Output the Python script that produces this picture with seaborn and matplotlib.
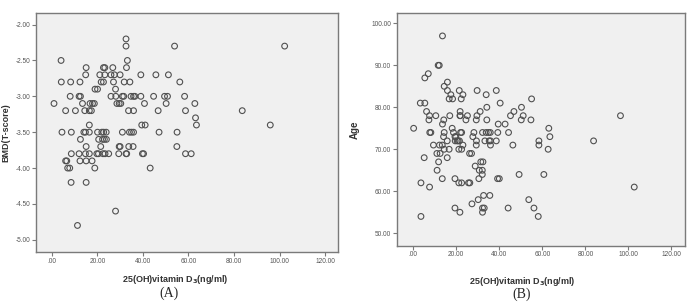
import numpy as np
import pandas as pd
import seaborn as sns
import matplotlib
matplotlib.use("Agg")
import matplotlib.pyplot as plt

# panel A: vitamin D vs BMD (T-score)
vitd_a = [32.6, 32.6, 53.9, 102.2, 4.1, 33.2,
          15.1, 22.7, 23.3, 26.8, 32.8,
          14.9, 21.1, 23.3, 26.0, 27.5, 30.0, 39.1, 45.7, 51.2,
          4.2, 8.3, 12.4, 21.7, 22.7, 27.1, 31.8, 34.3, 56.2,
          19.0, 20.1, 28.0,
          8.1, 12.0, 12.6, 26.0, 28.1, 31.0, 31.6, 34.8, 35.9, 36.5, 39.1, 44.7, 49.5, 50.8, 58.3,
          1.0, 13.5, 16.8, 17.9, 18.7, 28.6, 29.6, 30.3, 40.7, 50.2, 62.8,
          6.1, 10.4, 14.5, 16.5, 17.4, 33.7, 35.9, 46.7, 58.7, 83.6,
          63.1,
          16.5, 39.5, 41.0, 63.5, 95.9,
          4.5, 8.6, 14.1, 14.8, 16.5, 20.1, 22.0, 22.8, 23.9, 31.0, 34.1, 35.0, 35.9, 47.1, 55.0,
          12.6, 20.6, 22.3, 23.1, 24.0,
          15.1, 21.5, 29.6, 30.0, 33.8, 35.7, 54.9,
          8.6, 12.0, 14.8, 16.5, 19.8, 20.5, 22.5, 23.4, 25.0, 29.4, 32.6, 32.9, 39.8, 40.3, 58.7, 61.2,
          6.1, 6.6, 12.4, 15.1, 17.7,
          7.0, 7.9, 18.9, 43.2,
          8.5, 15.1,
          28.0,
          11.3]
bmd_a = [-2.2, -2.3, -2.3, -2.3, -2.5, -2.5,
         -2.6, -2.6, -2.6, -2.6, -2.6,
         -2.7, -2.7, -2.7, -2.7, -2.7, -2.7, -2.7, -2.7, -2.7,
         -2.8, -2.8, -2.8, -2.8, -2.8, -2.8, -2.8, -2.8, -2.8,
         -2.9, -2.9, -2.9,
         -3.0, -3.0, -3.0, -3.0, -3.0, -3.0, -3.0, -3.0, -3.0, -3.0, -3.0, -3.0, -3.0, -3.0, -3.0,
         -3.1, -3.1, -3.1, -3.1, -3.1, -3.1, -3.1, -3.1, -3.1, -3.1, -3.1,
         -3.2, -3.2, -3.2, -3.2, -3.2, -3.2, -3.2, -3.2, -3.2, -3.2,
         -3.3,
         -3.4, -3.4, -3.4, -3.4, -3.4,
         -3.5, -3.5, -3.5, -3.5, -3.5, -3.5, -3.5, -3.5, -3.5, -3.5, -3.5, -3.5, -3.5, -3.5, -3.5,
         -3.6, -3.6, -3.6, -3.6, -3.6,
         -3.7, -3.7, -3.7, -3.7, -3.7, -3.7, -3.7,
         -3.8, -3.8, -3.8, -3.8, -3.8, -3.8, -3.8, -3.8, -3.8, -3.8, -3.8, -3.8, -3.8, -3.8, -3.8, -3.8,
         -3.9, -3.9, -3.9, -3.9, -3.9,
         -4.0, -4.0, -4.0, -4.0,
         -4.2, -4.2,
         -4.6,
         -4.8]

# panel B: vitamin D vs age
vitd_b = [13.6, 11.6, 12.1, 7.0, 5.4, 15.9, 14.4,
          15.9, 21.4, 29.7, 38.6,
          33.9, 17.5, 23.1,
          16.7, 18.3, 22.3, 55.0,
          3.3, 5.4, 40.4,
          34.2, 50.3,
          6.2, 21.8, 31.1, 46.8,
          7.6, 10.5, 17.0, 21.7, 21.9, 25.2, 29.6, 45.2, 51.1, 96.3,
          7.3, 14.2, 24.5, 29.3, 34.2, 50.2, 54.7,
          13.6, 39.5, 42.7,
          0.2, 18.1, 63.0,
          7.7, 8.2, 14.4, 18.7, 22.0, 22.5, 28.2, 32.2, 33.9, 35.0, 35.8, 39.3, 44.3,
          14.1, 19.4, 19.8, 27.7, 63.5,
          15.8, 19.5, 20.4, 20.9, 21.5, 29.4, 33.3, 35.3, 35.9, 38.6, 58.4, 83.8,
          9.4, 12.2, 13.5, 23.1, 29.3, 35.9, 46.3, 58.4,
          14.4, 16.7, 21.2, 22.5, 62.7,
          11.0, 12.5, 26.2, 27.1,
          5.1, 15.8,
          11.8, 31.4, 32.4,
          28.8,
          11.1, 30.7, 32.1,
          32.1, 49.2, 60.7,
          13.5, 19.4, 30.5, 39.2, 40.0,
          3.6, 21.2, 22.5, 25.7, 26.3,
          7.6, 102.7,
          32.7, 35.6,
          30.2, 53.7,
          27.3,
          19.4, 32.2, 33.0, 44.1, 56.1,
          21.7, 32.2,
          3.6, 58.1]
age_b = [97, 90, 90, 88, 87, 86, 85,
         84, 84, 84, 84,
         83, 83, 83,
         82, 82, 82, 82,
         81, 81, 81,
         80, 80,
         79, 79, 79, 79,
         78, 78, 78, 78, 78, 78, 78, 78, 78, 78,
         77, 77, 77, 77, 77, 77, 77,
         76, 76, 76,
         75, 75, 75,
         74, 74, 74, 74, 74, 74, 74, 74, 74, 74, 74, 74, 74,
         73, 73, 73, 73, 73,
         72, 72, 72, 72, 72, 72, 72, 72, 72, 72, 72, 72,
         71, 71, 71, 71, 71, 71, 71, 71,
         70, 70, 70, 70, 70,
         69, 69, 69, 69,
         68, 68,
         67, 67, 67,
         66,
         65, 65, 65,
         64, 64, 64,
         63, 63, 63, 63, 63,
         62, 62, 62, 62, 62,
         61, 61,
         59, 59,
         58, 58,
         57,
         56, 56, 56, 56, 56,
         55, 55,
         54, 54]

x_ticks = [0, 20, 40, 60, 80, 100, 120]
bmd_ticks = [-2.0, -2.5, -3.0, -3.5, -4.0, -4.5, -5.0]
age_ticks = [50, 60, 70, 80, 90, 100]

df_a = pd.DataFrame({"vitd": vitd_a, "bmd": bmd_a})
df_b = pd.DataFrame({"vitd": vitd_b, "age": age_b})

sns.set_style("white")
plt.rcParams["font.family"] = ["Liberation Sans", "DejaVu Sans"]


def fmt(v):
    # SPSS style: ".00", "-2.50"
    s = "%.2f" % v
    if s.startswith("0."):
        s = s[1:]
    return s


def style_axes(ax, yticks):
    ax.set_facecolor("#f0f0f0")
    for sp in ax.spines.values():
        sp.set_color("#7a7a7a")
        sp.set_linewidth(1.0)
    ax.set_xticks(x_ticks)
    ax.set_xticklabels([fmt(v) for v in x_ticks])
    ax.set_yticks(yticks)
    ax.set_yticklabels([fmt(v) for v in yticks])
    ax.tick_params(axis="both", labelsize=4.7, colors="#7a7a7a", labelcolor="#555555",
                   length=3, width=0.8, direction="out", pad=1,
                   bottom=True, left=True, top=False, right=False)


fig = plt.figure(figsize=(6.91, 3.02), dpi=100)
ax1 = fig.add_axes([0.0521, 0.1656, 0.437, 0.791])
ax2 = fig.add_axes([0.574, 0.186, 0.418, 0.7715])

point_kw = dict(s=17, facecolors="none", edgecolor="#505050", linewidth=0.8)
sns.scatterplot(data=df_a, x="vitd", y="bmd", ax=ax1, **point_kw)
sns.scatterplot(data=df_b, x="vitd", y="age", ax=ax2, **point_kw)

ax1.set_xlim(-6.9, 125.6)
ax1.set_ylim(-5.17, -1.84)
ax2.set_xlim(-7.7, 126.5)
ax2.set_ylim(47.0, 102.5)
style_axes(ax1, bmd_ticks)
style_axes(ax2, age_ticks)

xlab = "25(OH)vitamin D$_\\mathbf{3}$(ng/ml)"
ax1.set_xlabel("")
ax2.set_xlabel("")
fig.text(0.254, 1 - 279 / 302, xlab, ha="center", va="center", fontsize=6.5,
         fontweight="bold", color="#333333")
fig.text(0.755, 1 - 281 / 302, xlab, ha="center", va="center", fontsize=6.5,
         fontweight="bold", color="#333333")
ax1.set_ylabel("BMD(T-score)", fontsize=6.5, fontweight="bold", color="#333333", labelpad=4)
ax2.set_ylabel("Age", fontsize=7, fontweight="bold", color="#333333", labelpad=8)

fig.text(0.245, 1 - 293 / 302, "(A)", ha="center", va="center", fontsize=10,
         family="Liberation Serif")
fig.text(0.755, 1 - 294 / 302, "(B)", ha="center", va="center", fontsize=10,
         family="Liberation Serif")

fig.savefig("out.png", dpi=100)
